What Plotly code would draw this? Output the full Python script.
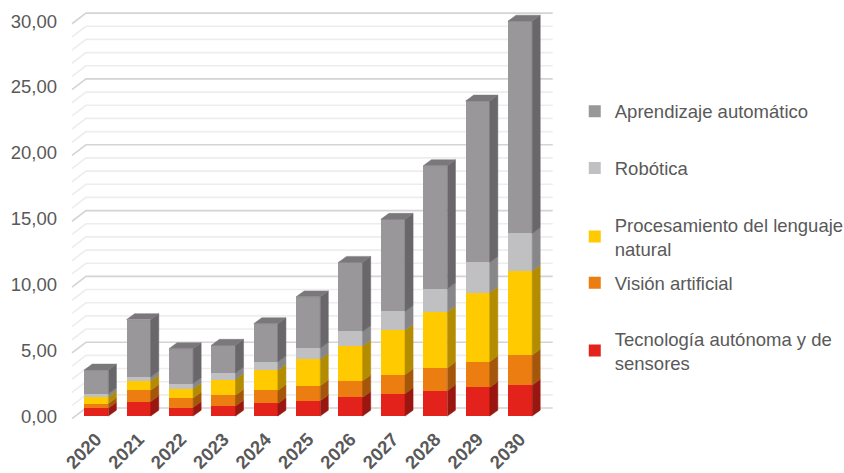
import plotly.graph_objects as go

# ---------------- data ----------------
years = ["2020", "2021", "2022", "2023", "2024", "2025", "2026", "2027", "2028", "2029", "2030"]
tecnologia = [0.60, 1.10, 0.65, 0.76, 0.96, 1.16, 1.42, 1.70, 1.93, 2.18, 2.35]
vision = [0.35, 0.86, 0.72, 0.82, 0.99, 1.14, 1.26, 1.45, 1.72, 1.95, 2.28]
procesamiento = [0.50, 0.72, 0.70, 1.20, 1.54, 2.00, 2.64, 3.38, 4.25, 5.25, 6.38]
robotica = [0.25, 0.30, 0.40, 0.50, 0.63, 0.86, 1.11, 1.42, 1.77, 2.30, 2.86]
aprendizaje = [1.80, 4.35, 2.65, 2.10, 2.90, 3.90, 5.25, 7.00, 9.35, 12.25, 16.13]
y_ticks = [0, 5, 10, 15, 20, 25, 30]

# ---------------- styling ----------------
FONT = "Liberation Sans, Arial, sans-serif"
TXT = "#595959"
FS = 18.5
BAR_W = 0.57
DX, DY = 0.19, 0.45           # bar depth (x units, y units)
BACK_DY = 0.61                # wall depth offset for gridlines
FRONT_DY = -0.2
X_FRONT, X_BACK, X_END = -0.573, -0.243, 10.77

series = [
    ("Tecnología autónoma y de<br>sensores", tecnologia, "#E3231B", "#9A1610", "legend5", 0.258),
    ("Visión artificial", vision, "#EC7D10", "#A4560A", "legend4", 0.401),
    ("Procesamiento del lenguaje<br>natural", procesamiento, "#FFCA00", "#B38C00", "legend3", 0.499),
    ("Robótica", robotica, "#C0BFC1", "#878688", "legend2", 0.644),
    ("Aprendizaje automático", aprendizaje, "#9A979A", "#69676A", "legend", 0.764),
]
TOP_COLOR = "#7A787B"

x = list(range(len(years)))
fig = go.Figure()

base = [0.0] * len(x)
for name, vals, front, side, leg, ly in series:
    fig.add_trace(go.Bar(
        x=x, y=vals, base=base, width=BAR_W, name=name,
        marker=dict(color=front, line=dict(width=0)),
        legend=leg, hoverinfo="skip"))
    px_, py_ = [], []
    for i in x:
        xr = i + BAR_W / 2
        b = base[i]
        t = base[i] + vals[i]
        px_ += [xr, xr + DX, xr + DX, xr, xr, None]
        py_ += [b, b + DY, t + DY, t, b, None]
    fig.add_trace(go.Scatter(
        x=px_, y=py_, mode="lines", fill="toself", fillcolor=side,
        line=dict(width=0.5, color=side), showlegend=False, hoverinfo="skip"))
    base = [base[i] + vals[i] for i in x]

# top faces
tx, ty = [], []
for i in x:
    xl, xr, T = i - BAR_W / 2, i + BAR_W / 2, base[i]
    tx += [xl, xr, xr + DX, xl + DX, xl, None]
    ty += [T, T, T + DY, T + DY, T, None]
fig.add_trace(go.Scatter(
    x=tx, y=ty, mode="lines", fill="toself", fillcolor=TOP_COLOR,
    line=dict(width=0.5, color=TOP_COLOR), showlegend=False, hoverinfo="skip"))

# gridlines on the back wall / side wall
shapes = []
for v in range(0, 31):
    major = v % 5 == 0
    shapes.append(dict(
        type="path", xref="x", yref="y", layer="below",
        path=f"M {X_FRONT},{v + FRONT_DY} L {X_BACK},{v + BACK_DY} L {X_END},{v + BACK_DY}",
        line=dict(color="#D4D4D4" if major else "#EDEDED", width=1.6)))

legends = {}
for name, vals, front, side, leg, ly in series:
    legends[leg] = dict(
        xref="container", yref="container", x=0.681, y=ly,
        xanchor="left", yanchor="middle",
        font=dict(family=FONT, size=FS, color=TXT),
        bgcolor="rgba(0,0,0,0)", borderwidth=0)

fig.update_layout(
    width=844, height=473, autosize=False,
    margin=dict(l=70, r=289.8, t=3.8, b=49.2, autoexpand=False),
    paper_bgcolor="white", plot_bgcolor="white",
    barmode="overlay", bargap=0,
    shapes=shapes,
    font=dict(family=FONT, size=FS, color=TXT),
    xaxis=dict(range=[-0.62, 10.8], tickvals=x, ticktext=years, tickangle=-45,
               showgrid=False, zeroline=False, showline=False, ticks="",
               tickfont=dict(family=FONT, size=FS, color=TXT, weight="bold"),
               ticklabelstandoff=0, fixedrange=True),
    yaxis=dict(range=[-0.6, 31.3], tickvals=y_ticks, tickformat=".2f",
               showgrid=False, zeroline=False, showline=False, ticks="",
               tickfont=dict(family=FONT, size=FS, color=TXT),
               ticklabelstandoff=12, fixedrange=True),
    separators=",.",
    **legends,
)

fig.write_html("out.html", config={"displayModeBar": False},
               post_script="document.body.style.margin='0';document.body.style.overflow='hidden';")
